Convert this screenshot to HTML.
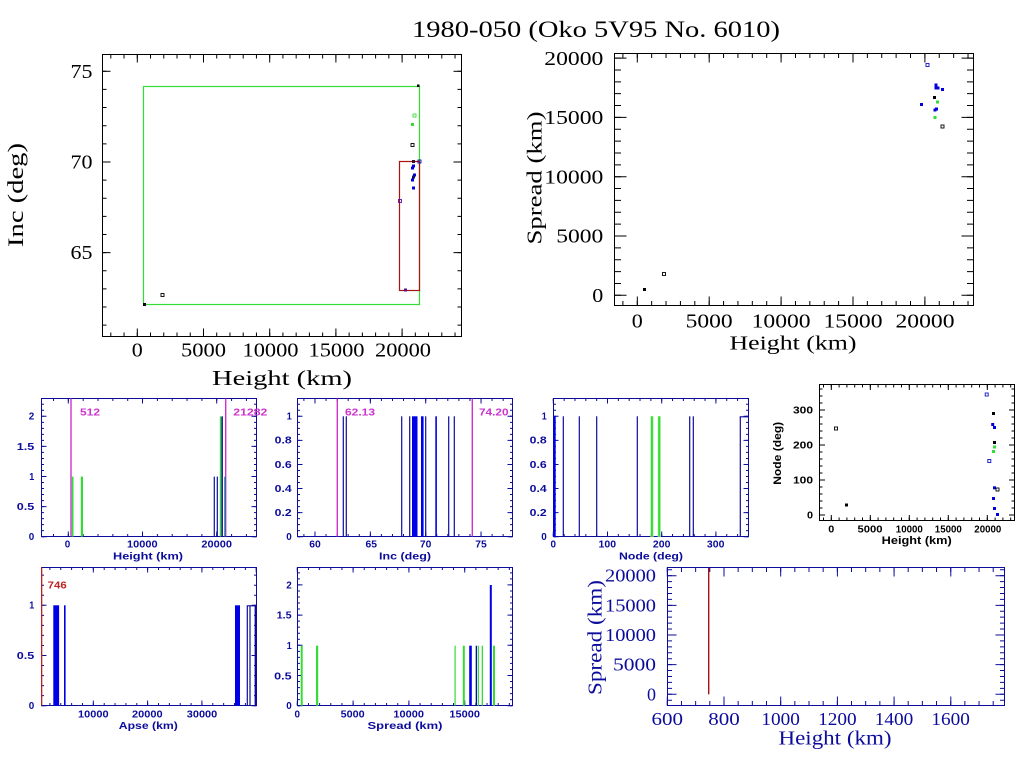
<!DOCTYPE html>
<html><head><meta charset="utf-8"><style>
html,body{margin:0;padding:0;background:#fff;}
svg{display:block;}
.serif{font-family:"Liberation Serif",serif;}
.sm{font-family:"Liberation Sans",sans-serif;font-weight:bold;font-size:10px;}
</style></head><body>
<svg width="1024" height="768" viewBox="0 0 1024 768" xmlns="http://www.w3.org/2000/svg">
<rect width="1024" height="768" fill="#fff"/>

<!-- Title -->
<text class="serif" x="596" y="37" font-size="23" text-anchor="middle" textLength="368" lengthAdjust="spacingAndGlyphs" fill="#000">1980-050 (Oko 5V95 No. 6010)</text>

<!-- ================= TL: Inc vs Height ================= -->
<g stroke="#000" fill="none">
<rect x="102.5" y="54.5" width="359" height="282" stroke-width="1"/>
<line x1="110.3" y1="334.5" x2="462" y2="334.5" stroke-width="4" stroke-dasharray="1 12.24"/>
<line x1="136.8" y1="332.5" x2="462" y2="332.5" stroke-width="8" stroke-dasharray="1 65.2"/>
<line x1="110.3" y1="56.5" x2="462" y2="56.5" stroke-width="4" stroke-dasharray="1 12.24"/>
<line x1="136.8" y1="58.5" x2="462" y2="58.5" stroke-width="8" stroke-dasharray="1 65.2"/>
<line x1="104.5" y1="70.8" x2="104.5" y2="337" stroke-width="4" stroke-dasharray="1 17.13"/>
<line x1="106.5" y1="70.8" x2="106.5" y2="337" stroke-width="8" stroke-dasharray="1 89.65"/>
<line x1="459.5" y1="70.8" x2="459.5" y2="337" stroke-width="4" stroke-dasharray="1 17.13"/>
<line x1="457.5" y1="70.8" x2="457.5" y2="337" stroke-width="8" stroke-dasharray="1 89.65"/>
</g>
<rect x="143.5" y="86.5" width="276" height="218" fill="none" stroke="#33dd33" stroke-width="1.2"/>
<rect x="399.5" y="161.5" width="20" height="129" fill="none" stroke="#aa1111" stroke-width="1.2"/>
<g>
<rect x="143" y="303" width="3" height="3" fill="#000"/>
<rect x="161" y="293.5" width="3" height="3" fill="none" stroke="#000" stroke-width="0.9"/>
<rect x="417" y="84.5" width="2.5" height="2.5" fill="#000"/>
<rect x="413" y="114" width="3" height="3" fill="none" stroke="#33dd33" stroke-width="0.9"/>
<rect x="411" y="123" width="3" height="3" fill="#33dd33"/>
<rect x="411" y="143.5" width="3" height="3" fill="none" stroke="#000" stroke-width="0.9"/>
<rect x="412" y="160" width="3" height="3" fill="#331133"/>
<rect x="418" y="160" width="3" height="3" fill="none" stroke="#1111aa" stroke-width="0.9"/>
<rect x="412" y="164.5" width="3" height="3" fill="#0000dd"/>
<rect x="411" y="166.5" width="3" height="3" fill="#0000dd"/>
<rect x="413" y="173.5" width="3" height="3" fill="#0000dd"/>
<rect x="412" y="175.5" width="3" height="3" fill="#111166"/>
<rect x="411" y="178.5" width="3" height="3" fill="#0000dd"/>
<rect x="412" y="186.5" width="3" height="3" fill="#0000dd"/>
<rect x="398.5" y="199.5" width="3" height="3" fill="none" stroke="#5511aa" stroke-width="0.9"/>
<rect x="404" y="288.5" width="3" height="3" fill="#551188"/>
</g>
<g class="serif" font-size="20" fill="#000">
<text x="92.5" y="77.8" text-anchor="end" textLength="22" lengthAdjust="spacingAndGlyphs">75</text>
<text x="92.5" y="168.5" text-anchor="end" textLength="22" lengthAdjust="spacingAndGlyphs">70</text>
<text x="92.5" y="259" text-anchor="end" textLength="22" lengthAdjust="spacingAndGlyphs">65</text>
<text x="137.3" y="356.5" text-anchor="middle" textLength="11" lengthAdjust="spacingAndGlyphs">0</text>
<text x="203.5" y="356.5" text-anchor="middle" textLength="45" lengthAdjust="spacingAndGlyphs">5000</text>
<text x="270.5" y="356.5" text-anchor="middle" textLength="56" lengthAdjust="spacingAndGlyphs">10000</text>
<text x="336.5" y="356.5" text-anchor="middle" textLength="56" lengthAdjust="spacingAndGlyphs">15000</text>
<text x="403" y="356.5" text-anchor="middle" textLength="56" lengthAdjust="spacingAndGlyphs">20000</text>
<text x="282" y="385" font-size="21" text-anchor="middle" textLength="140" lengthAdjust="spacingAndGlyphs">Height (km)</text>
<text transform="translate(23,195) rotate(-90)" x="0" y="0" font-size="22" text-anchor="middle" textLength="104" lengthAdjust="spacingAndGlyphs">Inc (deg)</text>
</g>

<!-- ================= TR: Spread vs Height ================= -->
<g stroke="#000" fill="none">
<rect x="614.5" y="53.5" width="359" height="252" stroke-width="1"/>
<line x1="622.4" y1="303.25" x2="973" y2="303.25" stroke-width="4.5" stroke-dasharray="1 13.38"/>
<line x1="636.8" y1="301" x2="973" y2="301" stroke-width="9" stroke-dasharray="1 70.9"/>
<line x1="622.4" y1="55.75" x2="973" y2="55.75" stroke-width="4.5" stroke-dasharray="1 13.38"/>
<line x1="636.8" y1="58" x2="973" y2="58" stroke-width="9" stroke-dasharray="1 70.9"/>
<line x1="617.75" y1="295.8" x2="617.75" y2="54" stroke-width="6.5" stroke-dasharray="1 10.86"/>
<line x1="620.5" y1="295.8" x2="620.5" y2="54" stroke-width="12" stroke-dasharray="1 58.3"/>
<line x1="970.25" y1="295.8" x2="970.25" y2="54" stroke-width="6.5" stroke-dasharray="1 10.86"/>
<line x1="967.5" y1="295.8" x2="967.5" y2="54" stroke-width="12" stroke-dasharray="1 58.3"/>
</g>
<g>
<rect x="643" y="288" width="3" height="3" fill="#000"/>
<rect x="662.5" y="272.5" width="3" height="3" fill="none" stroke="#000" stroke-width="0.9"/>
<rect x="926" y="63.5" width="3" height="3" fill="none" stroke="#1111cc" stroke-width="0.9"/>
<rect x="934.5" y="83.5" width="3" height="3" fill="#0000dd"/>
<rect x="934.5" y="86.5" width="3" height="3" fill="#0000dd"/>
<rect x="936.5" y="86.5" width="3" height="3" fill="#0000dd"/>
<rect x="941" y="88" width="3" height="3" fill="#0000dd"/>
<rect x="933" y="96" width="3" height="3" fill="#000"/>
<rect x="936" y="100.5" width="3" height="3" fill="#33dd33"/>
<rect x="920" y="103" width="3" height="3" fill="#0000dd"/>
<rect x="933.5" y="108.5" width="3" height="3" fill="#0000dd"/>
<rect x="935" y="107.5" width="3" height="3" fill="#0000dd"/>
<rect x="933.5" y="116" width="3" height="3" fill="#33dd33"/>
<rect x="941" y="125" width="3" height="3" fill="none" stroke="#000" stroke-width="0.9"/>
</g>
<g class="serif" font-size="20" fill="#000">
<text x="603.3" y="302" text-anchor="end" textLength="11" lengthAdjust="spacingAndGlyphs">0</text>
<text x="603.3" y="242.7" text-anchor="end" textLength="47" lengthAdjust="spacingAndGlyphs">5000</text>
<text x="603.3" y="183.3" text-anchor="end" textLength="59" lengthAdjust="spacingAndGlyphs">10000</text>
<text x="603.3" y="124" text-anchor="end" textLength="59" lengthAdjust="spacingAndGlyphs">15000</text>
<text x="603.3" y="64.8" text-anchor="end" textLength="59" lengthAdjust="spacingAndGlyphs">20000</text>
<text x="637.3" y="327.3" text-anchor="middle" textLength="11" lengthAdjust="spacingAndGlyphs">0</text>
<text x="709.2" y="327.3" text-anchor="middle" textLength="47" lengthAdjust="spacingAndGlyphs">5000</text>
<text x="781.1" y="327.3" text-anchor="middle" textLength="59" lengthAdjust="spacingAndGlyphs">10000</text>
<text x="853" y="327.3" text-anchor="middle" textLength="59" lengthAdjust="spacingAndGlyphs">15000</text>
<text x="925" y="327.3" text-anchor="middle" textLength="59" lengthAdjust="spacingAndGlyphs">20000</text>
<text x="793" y="349.3" text-anchor="middle" textLength="127" lengthAdjust="spacingAndGlyphs">Height (km)</text>
<text transform="translate(541.7,178) rotate(-90)" x="0" y="0" font-size="21" text-anchor="middle" textLength="133" lengthAdjust="spacingAndGlyphs">Spread (km)</text>
</g>

<!-- ================= H1: Height histogram ================= -->
<g stroke="#0c0c9c" fill="none">
<rect x="41.5" y="398.5" width="215" height="138" stroke-width="1"/>
<line x1="53" y1="535.25" x2="256" y2="535.25" stroke-width="2.5" stroke-dasharray="1 13.84"/>
<line x1="67.8" y1="534" x2="256" y2="534" stroke-width="5" stroke-dasharray="1 73.2"/>
<line x1="53" y1="399.75" x2="256" y2="399.75" stroke-width="2.5" stroke-dasharray="1 13.84"/>
<line x1="67.8" y1="401" x2="256" y2="401" stroke-width="5" stroke-dasharray="1 73.2"/>
<line x1="42.75" y1="537.2" x2="42.75" y2="398" stroke-width="2.5" stroke-dasharray="1 5.02"/>
<line x1="44" y1="537.2" x2="44" y2="398" stroke-width="5" stroke-dasharray="1 29.1"/>
<line x1="255.25" y1="537.2" x2="255.25" y2="398" stroke-width="2.5" stroke-dasharray="1 5.02"/>
<line x1="254" y1="537.2" x2="254" y2="398" stroke-width="5" stroke-dasharray="1 29.1"/>
</g>
<g>
<rect x="70.3" y="398.5" width="1.4" height="138" fill="#cc33cc"/>
<rect x="225" y="398.5" width="1.4" height="138" fill="#cc33cc"/>
<rect x="71.8" y="476.6" width="1.7" height="60" fill="#33dd33"/>
<rect x="80.8" y="476.6" width="2.2" height="60" fill="#33dd33"/>
<rect x="213.7" y="476.6" width="1.2" height="60" fill="#0c0c9c"/>
<rect x="216.7" y="476.6" width="1.2" height="60" fill="#0c0c9c"/>
<rect x="219.8" y="416.4" width="1.5" height="120" fill="#33dd33"/>
<rect x="221.4" y="416.4" width="1.5" height="120" fill="#0c0c9c"/>
<rect x="224.3" y="476.6" width="1.3" height="60" fill="#107090"/>
</g>
<g class="sm" fill="#0c0c9c">
<text x="34.3" y="419.6" text-anchor="end" textLength="5.5" lengthAdjust="spacingAndGlyphs">2</text>
<text x="34.3" y="449.8" text-anchor="end" textLength="17.5" lengthAdjust="spacingAndGlyphs">1.5</text>
<text x="34.3" y="479.9" text-anchor="end" textLength="5" lengthAdjust="spacingAndGlyphs">1</text>
<text x="34.3" y="510" text-anchor="end" textLength="17.5" lengthAdjust="spacingAndGlyphs">0.5</text>
<text x="34.3" y="540" text-anchor="end" textLength="5.5" lengthAdjust="spacingAndGlyphs">0</text>
<text x="67.5" y="547.7" text-anchor="middle" textLength="5.5" lengthAdjust="spacingAndGlyphs">0</text>
<text x="142.3" y="547.7" text-anchor="middle" textLength="30.5" lengthAdjust="spacingAndGlyphs">10000</text>
<text x="216.7" y="547.7" text-anchor="middle" textLength="30.5" lengthAdjust="spacingAndGlyphs">20000</text>
<text x="148" y="559.5" text-anchor="middle" textLength="70" lengthAdjust="spacingAndGlyphs">Height (km)</text>
</g>
<g class="sm" fill="#cc33cc">
<text x="80" y="415.7" textLength="20" lengthAdjust="spacingAndGlyphs">512</text>
<text x="233.3" y="415.7" textLength="34" lengthAdjust="spacingAndGlyphs">21282</text>
</g>

<!-- ================= H2: Inc histogram ================= -->
<g stroke="#0c0c9c" fill="none">
<rect x="297.5" y="398.5" width="215" height="138" stroke-width="1"/>
<line x1="303.4" y1="535.25" x2="512" y2="535.25" stroke-width="2.5" stroke-dasharray="1 10.07"/>
<line x1="314.5" y1="534" x2="512" y2="534" stroke-width="5" stroke-dasharray="1 54.35"/>
<line x1="303.4" y1="399.75" x2="512" y2="399.75" stroke-width="2.5" stroke-dasharray="1 10.07"/>
<line x1="314.5" y1="401" x2="512" y2="401" stroke-width="5" stroke-dasharray="1 54.35"/>
<line x1="298.75" y1="537.2" x2="298.75" y2="398" stroke-width="2.5" stroke-dasharray="1 5.02"/>
<line x1="300" y1="537.2" x2="300" y2="398" stroke-width="5" stroke-dasharray="1 23.08"/>
<line x1="511.25" y1="537.2" x2="511.25" y2="398" stroke-width="2.5" stroke-dasharray="1 5.02"/>
<line x1="510" y1="537.2" x2="510" y2="398" stroke-width="5" stroke-dasharray="1 23.08"/>
</g>
<g>
<rect x="336.6" y="398.5" width="1.4" height="138" fill="#cc33cc"/>
<rect x="471.6" y="398.5" width="1.4" height="138" fill="#cc33cc"/>
<g fill="#0c0c9c">
<rect x="342.7" y="416.3" width="1.2" height="120.5"/>
<rect x="345.7" y="416.3" width="1.2" height="120.5"/>
<rect x="401.1" y="416.3" width="1.2" height="120.5"/>
<rect x="409.1" y="416.3" width="1.2" height="120.5"/>
<rect x="425.1" y="416.3" width="1.2" height="120.5"/>
<rect x="448.1" y="416.3" width="1.2" height="120.5"/>
<rect x="453.7" y="416.3" width="1.2" height="120.5"/>
</g>
<g fill="#0000e6">
<rect x="412" y="416.3" width="5.5" height="120.5"/>
<rect x="421" y="416.3" width="2.6" height="120.5"/>
<rect x="435.3" y="416.3" width="1.6" height="120.5"/>
</g>
</g>
<g class="sm" fill="#0c0c9c">
<text x="291.7" y="419.6" text-anchor="end" textLength="5" lengthAdjust="spacingAndGlyphs">1</text>
<text x="291.7" y="443.7" text-anchor="end" textLength="17" lengthAdjust="spacingAndGlyphs">0.8</text>
<text x="291.7" y="467.8" text-anchor="end" textLength="17" lengthAdjust="spacingAndGlyphs">0.6</text>
<text x="291.7" y="491.9" text-anchor="end" textLength="17" lengthAdjust="spacingAndGlyphs">0.4</text>
<text x="291.7" y="515.9" text-anchor="end" textLength="17" lengthAdjust="spacingAndGlyphs">0.2</text>
<text x="291.7" y="540" text-anchor="end" textLength="5.5" lengthAdjust="spacingAndGlyphs">0</text>
<text x="315" y="547.7" text-anchor="middle" textLength="11.5" lengthAdjust="spacingAndGlyphs">60</text>
<text x="371.3" y="547.7" text-anchor="middle" textLength="11.5" lengthAdjust="spacingAndGlyphs">65</text>
<text x="425.7" y="547.7" text-anchor="middle" textLength="11.5" lengthAdjust="spacingAndGlyphs">70</text>
<text x="481" y="547.7" text-anchor="middle" textLength="11.5" lengthAdjust="spacingAndGlyphs">75</text>
<text x="405" y="559.5" text-anchor="middle" textLength="52" lengthAdjust="spacingAndGlyphs">Inc (deg)</text>
</g>
<g class="sm" fill="#cc33cc">
<text x="345" y="415.7" textLength="30" lengthAdjust="spacingAndGlyphs">62.13</text>
<text x="479" y="415.7" textLength="29.5" lengthAdjust="spacingAndGlyphs">74.20</text>
</g>

<!-- ================= H3: Node histogram ================= -->
<g stroke="#0c0c9c" fill="none">
<rect x="553.5" y="398.5" width="195" height="138" stroke-width="1"/>
<line x1="552.8" y1="535.25" x2="748" y2="535.25" stroke-width="2.5" stroke-dasharray="1 9.84"/>
<line x1="552.8" y1="534" x2="748" y2="534" stroke-width="5" stroke-dasharray="1 53.2"/>
<line x1="552.8" y1="399.75" x2="748" y2="399.75" stroke-width="2.5" stroke-dasharray="1 9.84"/>
<line x1="552.8" y1="401" x2="748" y2="401" stroke-width="5" stroke-dasharray="1 53.2"/>
<line x1="554.75" y1="537.2" x2="554.75" y2="398" stroke-width="2.5" stroke-dasharray="1 5.02"/>
<line x1="556" y1="537.2" x2="556" y2="398" stroke-width="5" stroke-dasharray="1 23.08"/>
<line x1="747.25" y1="537.2" x2="747.25" y2="398" stroke-width="2.5" stroke-dasharray="1 5.02"/>
<line x1="746" y1="537.2" x2="746" y2="398" stroke-width="5" stroke-dasharray="1 23.08"/>
<path d="M740.3 536.5 V416.8 H748.5" stroke-width="1.2"/>
</g>
<g>
<rect x="553.3" y="416.3" width="2.4" height="120.5" fill="#0000e6"/>
<g fill="#0c0c9c">
<rect x="562.7" y="416.3" width="1.2" height="120.5"/>
<rect x="578.7" y="416.3" width="1.2" height="120.5"/>
<rect x="596.1" y="416.3" width="1.2" height="120.5"/>
<rect x="636.7" y="416.3" width="1.2" height="120.5"/>
<rect x="689.1" y="416.3" width="1.2" height="120.5"/>
<rect x="692.7" y="416.3" width="1.2" height="120.5"/>
</g>
<rect x="650.3" y="416.3" width="3.4" height="120.5" fill="#bff0bf"/>
<rect x="657.6" y="416.3" width="3.4" height="120.5" fill="#bff0bf"/>
<rect x="650.9" y="416.3" width="2" height="120.5" fill="#33dd33"/>
<rect x="658.2" y="416.3" width="2" height="120.5" fill="#33dd33"/>
</g>
<g class="sm" fill="#0c0c9c">
<text x="546.7" y="419.6" text-anchor="end" textLength="5" lengthAdjust="spacingAndGlyphs">1</text>
<text x="546.7" y="443.7" text-anchor="end" textLength="17" lengthAdjust="spacingAndGlyphs">0.8</text>
<text x="546.7" y="467.8" text-anchor="end" textLength="17" lengthAdjust="spacingAndGlyphs">0.6</text>
<text x="546.7" y="491.9" text-anchor="end" textLength="17" lengthAdjust="spacingAndGlyphs">0.4</text>
<text x="546.7" y="515.9" text-anchor="end" textLength="17" lengthAdjust="spacingAndGlyphs">0.2</text>
<text x="546.7" y="540" text-anchor="end" textLength="5.5" lengthAdjust="spacingAndGlyphs">0</text>
<text x="553.3" y="547.7" text-anchor="middle" textLength="5.5" lengthAdjust="spacingAndGlyphs">0</text>
<text x="607.3" y="547.7" text-anchor="middle" textLength="17.5" lengthAdjust="spacingAndGlyphs">100</text>
<text x="661.7" y="547.7" text-anchor="middle" textLength="17.5" lengthAdjust="spacingAndGlyphs">200</text>
<text x="715.7" y="547.7" text-anchor="middle" textLength="17.5" lengthAdjust="spacingAndGlyphs">300</text>
<text x="651" y="559.5" text-anchor="middle" textLength="64" lengthAdjust="spacingAndGlyphs">Node (deg)</text>
</g>

<!-- ================= SN: Node vs Height ================= -->
<g stroke="#000" fill="none">
<rect x="819.5" y="384.5" width="195" height="136" stroke-width="1"/>
<line x1="823" y1="519" x2="1014" y2="519" stroke-width="3" stroke-dasharray="1 6.8"/>
<line x1="830.8" y1="517.75" x2="1014" y2="517.75" stroke-width="5.5" stroke-dasharray="1 38"/>
<line x1="823" y1="386" x2="1014" y2="386" stroke-width="3" stroke-dasharray="1 6.8"/>
<line x1="830.8" y1="387.25" x2="1014" y2="387.25" stroke-width="5.5" stroke-dasharray="1 38"/>
<line x1="821" y1="515.5" x2="821" y2="385" stroke-width="3" stroke-dasharray="1 6"/>
<line x1="822.25" y1="515.5" x2="822.25" y2="385" stroke-width="5.5" stroke-dasharray="1 34"/>
<line x1="1013" y1="515.5" x2="1013" y2="385" stroke-width="3" stroke-dasharray="1 6"/>
<line x1="1011.75" y1="515.5" x2="1011.75" y2="385" stroke-width="5.5" stroke-dasharray="1 34"/>
</g>
<g>
<rect x="834.5" y="427" width="3" height="3" fill="none" stroke="#000" stroke-width="0.9"/>
<rect x="845" y="503.5" width="3" height="3" fill="#000"/>
<rect x="985.2" y="393" width="3" height="3" fill="none" stroke="#1111cc" stroke-width="0.9"/>
<rect x="992" y="412" width="3" height="3" fill="#000"/>
<rect x="991.2" y="423" width="3" height="3" fill="#0000dd"/>
<rect x="993" y="426" width="3" height="3" fill="#0000dd"/>
<rect x="993" y="441" width="3" height="3" fill="#000"/>
<rect x="993" y="445.5" width="3" height="3" fill="#33dd33"/>
<rect x="992" y="450" width="3" height="3" fill="#33dd33"/>
<rect x="987.8" y="459.5" width="3" height="3" fill="none" stroke="#1111cc" stroke-width="0.9"/>
<rect x="993" y="486.3" width="3" height="3" fill="#0000dd"/>
<rect x="996" y="488" width="3" height="3" fill="none" stroke="#000" stroke-width="0.9"/>
<rect x="992" y="497" width="3" height="3" fill="#0000dd"/>
<rect x="993" y="507" width="3" height="3" fill="#0000dd"/>
<rect x="996" y="513" width="3" height="3" fill="#0000dd"/>
</g>
<g class="sm" fill="#000">
<text x="813" y="518.3" text-anchor="end" textLength="6" lengthAdjust="spacingAndGlyphs">0</text>
<text x="813" y="483.6" text-anchor="end" textLength="20" lengthAdjust="spacingAndGlyphs">100</text>
<text x="813" y="448.3" text-anchor="end" textLength="20" lengthAdjust="spacingAndGlyphs">200</text>
<text x="813" y="413.3" text-anchor="end" textLength="20" lengthAdjust="spacingAndGlyphs">300</text>
<text x="831.3" y="532.3" text-anchor="middle" textLength="6" lengthAdjust="spacingAndGlyphs">0</text>
<text x="870" y="532.3" text-anchor="middle" textLength="25" lengthAdjust="spacingAndGlyphs">5000</text>
<text x="909.3" y="532.3" text-anchor="middle" textLength="27" lengthAdjust="spacingAndGlyphs">10000</text>
<text x="948.3" y="532.3" text-anchor="middle" textLength="27" lengthAdjust="spacingAndGlyphs">15000</text>
<text x="987.8" y="532.3" text-anchor="middle" textLength="27" lengthAdjust="spacingAndGlyphs">20000</text>
<text x="916.7" y="544" font-size="11" text-anchor="middle" textLength="70" lengthAdjust="spacingAndGlyphs">Height (km)</text>
<text transform="translate(781,453.3) rotate(-90)" x="0" y="0" font-size="11" text-anchor="middle" textLength="63" lengthAdjust="spacingAndGlyphs">Node (deg)</text>
</g>

<!-- ================= BA: Apse histogram ================= -->
<g stroke="#0c0c9c" fill="none">
<rect x="41.5" y="567.5" width="215" height="138" stroke-width="1"/>
<line x1="49.4" y1="704.25" x2="256" y2="704.25" stroke-width="2.5" stroke-dasharray="1 9.86"/>
<line x1="92.8" y1="703" x2="256" y2="703" stroke-width="5" stroke-dasharray="1 53.3"/>
<line x1="49.4" y1="568.75" x2="256" y2="568.75" stroke-width="2.5" stroke-dasharray="1 9.86"/>
<line x1="92.8" y1="570" x2="256" y2="570" stroke-width="5" stroke-dasharray="1 53.3"/>
<line x1="42.75" y1="706.2" x2="42.75" y2="567" stroke-width="2.5" stroke-dasharray="1 9.04"/>
<line x1="44" y1="706.2" x2="44" y2="567" stroke-width="5" stroke-dasharray="1 49.2"/>
<line x1="255.25" y1="706.2" x2="255.25" y2="567" stroke-width="2.5" stroke-dasharray="1 9.04"/>
<line x1="254" y1="706.2" x2="254" y2="567" stroke-width="5" stroke-dasharray="1 49.2"/>
<path d="M247.3 705.5 V605.8 H256" stroke-width="1.2"/>
<line x1="250" y1="605.5" x2="250" y2="705.5" stroke-width="1.2"/>
<line x1="255.3" y1="605.5" x2="255.3" y2="705.5" stroke-width="1.4"/>
</g>
<rect x="41" y="567.5" width="1.3" height="138" fill="#bb2222"/>
<g fill="#0000e6">
<rect x="53.3" y="605.3" width="5.8" height="100.4"/>
<rect x="64" y="605.3" width="1.6" height="100.4"/>
<rect x="235" y="605.3" width="5" height="100.4"/>
</g>
<g class="sm" fill="#0c0c9c">
<text x="34.3" y="608.6" text-anchor="end" textLength="5" lengthAdjust="spacingAndGlyphs">1</text>
<text x="34.3" y="659" text-anchor="end" textLength="17.5" lengthAdjust="spacingAndGlyphs">0.5</text>
<text x="34.3" y="709" text-anchor="end" textLength="5.5" lengthAdjust="spacingAndGlyphs">0</text>
<text x="93.3" y="717.3" text-anchor="middle" textLength="30.5" lengthAdjust="spacingAndGlyphs">10000</text>
<text x="147.3" y="717.3" text-anchor="middle" textLength="30.5" lengthAdjust="spacingAndGlyphs">20000</text>
<text x="202" y="717.3" text-anchor="middle" textLength="30.5" lengthAdjust="spacingAndGlyphs">30000</text>
<text x="148.3" y="729" text-anchor="middle" textLength="59" lengthAdjust="spacingAndGlyphs">Apse (km)</text>
</g>
<text class="sm" x="47.7" y="588.3" fill="#bb2222" textLength="19" lengthAdjust="spacingAndGlyphs">746</text>

<!-- ================= BS: Spread histogram ================= -->
<g stroke="#0c0c9c" fill="none">
<rect x="297.5" y="567.5" width="215" height="138" stroke-width="1"/>
<line x1="296.8" y1="704.25" x2="512" y2="704.25" stroke-width="2.5" stroke-dasharray="1 10.16"/>
<line x1="296.8" y1="703" x2="512" y2="703" stroke-width="5" stroke-dasharray="1 54.8"/>
<line x1="296.8" y1="568.75" x2="512" y2="568.75" stroke-width="2.5" stroke-dasharray="1 10.16"/>
<line x1="296.8" y1="570" x2="512" y2="570" stroke-width="5" stroke-dasharray="1 54.8"/>
<line x1="298.75" y1="706.2" x2="298.75" y2="567" stroke-width="2.5" stroke-dasharray="1 5.04"/>
<line x1="300" y1="706.2" x2="300" y2="567" stroke-width="5" stroke-dasharray="1 29.2"/>
<line x1="511.25" y1="706.2" x2="511.25" y2="567" stroke-width="2.5" stroke-dasharray="1 5.04"/>
<line x1="510" y1="706.2" x2="510" y2="567" stroke-width="5" stroke-dasharray="1 29.2"/>
</g>
<g>
<g fill="#33dd33">
<rect x="300.7" y="645.7" width="2" height="60"/>
<rect x="316" y="645.7" width="2.2" height="60"/>
<rect x="454.5" y="645.7" width="1.2" height="60"/>
<rect x="462.8" y="645.7" width="2" height="60"/>
<rect x="477.7" y="645.7" width="1.3" height="60"/>
<rect x="481.7" y="645.7" width="1.3" height="60"/>
<rect x="493" y="645.7" width="2" height="60"/>
</g>
<rect x="469.2" y="645.7" width="2.6" height="60" fill="#0000e6"/>
<rect x="475.7" y="645.7" width="1.3" height="60" fill="#0c0c9c"/>
<rect x="489.8" y="585" width="2" height="120.7" fill="#0000e6"/>
</g>
<g class="sm" fill="#0c0c9c">
<text x="291.7" y="588.3" text-anchor="end" textLength="5.5" lengthAdjust="spacingAndGlyphs">2</text>
<text x="291.7" y="618.6" text-anchor="end" textLength="15" lengthAdjust="spacingAndGlyphs">1.5</text>
<text x="291.7" y="649" text-anchor="end" textLength="5" lengthAdjust="spacingAndGlyphs">1</text>
<text x="291.7" y="679.6" text-anchor="end" textLength="17.5" lengthAdjust="spacingAndGlyphs">0.5</text>
<text x="291.7" y="709" text-anchor="end" textLength="5.5" lengthAdjust="spacingAndGlyphs">0</text>
<text x="297.3" y="717.3" text-anchor="middle" textLength="5.5" lengthAdjust="spacingAndGlyphs">0</text>
<text x="352.7" y="717.3" text-anchor="middle" textLength="24" lengthAdjust="spacingAndGlyphs">5000</text>
<text x="408.7" y="717.3" text-anchor="middle" textLength="30.5" lengthAdjust="spacingAndGlyphs">10000</text>
<text x="464.7" y="717.3" text-anchor="middle" textLength="30.5" lengthAdjust="spacingAndGlyphs">15000</text>
<text x="405" y="729" text-anchor="middle" textLength="75" lengthAdjust="spacingAndGlyphs">Spread (km)</text>
</g>

<!-- ================= BR: Spread vs Height (zoom) ================= -->
<g stroke="#0c0c9c" fill="none">
<rect x="667.5" y="567.5" width="337" height="138" stroke-width="1"/>
<line x1="666.8" y1="703.25" x2="1004" y2="703.25" stroke-width="4.5" stroke-dasharray="1 13.17"/>
<line x1="666.8" y1="701" x2="1004" y2="701" stroke-width="9" stroke-dasharray="1 55.7"/>
<line x1="666.8" y1="569.75" x2="1004" y2="569.75" stroke-width="4.5" stroke-dasharray="1 13.17"/>
<line x1="666.8" y1="572" x2="1004" y2="572" stroke-width="9" stroke-dasharray="1 55.7"/>
<line x1="669.75" y1="700.7" x2="669.75" y2="568" stroke-width="4.5" stroke-dasharray="1 4.93"/>
<line x1="672" y1="694.8" x2="672" y2="568" stroke-width="9" stroke-dasharray="1 28.65"/>
<line x1="1002.25" y1="700.7" x2="1002.25" y2="568" stroke-width="4.5" stroke-dasharray="1 4.93"/>
<line x1="1000" y1="694.8" x2="1000" y2="568" stroke-width="9" stroke-dasharray="1 28.65"/>
</g>
<rect x="708" y="567.7" width="1.4" height="126.6" fill="#aa1111"/>
<g class="serif" font-size="18" fill="#0c0c9c">
<text x="656" y="700.3" text-anchor="end" textLength="9" lengthAdjust="spacingAndGlyphs">0</text>
<text x="656" y="670.6" text-anchor="end" textLength="43" lengthAdjust="spacingAndGlyphs">5000</text>
<text x="656" y="641" text-anchor="end" textLength="51" lengthAdjust="spacingAndGlyphs">10000</text>
<text x="656" y="611.3" text-anchor="end" textLength="51" lengthAdjust="spacingAndGlyphs">15000</text>
<text x="656" y="581.7" text-anchor="end" textLength="51" lengthAdjust="spacingAndGlyphs">20000</text>
<text x="667.3" y="725" text-anchor="middle" textLength="31.5" lengthAdjust="spacingAndGlyphs">600</text>
<text x="724" y="725" text-anchor="middle" textLength="31.5" lengthAdjust="spacingAndGlyphs">800</text>
<text x="780.7" y="725" text-anchor="middle" textLength="38.5" lengthAdjust="spacingAndGlyphs">1000</text>
<text x="837.4" y="725" text-anchor="middle" textLength="38.5" lengthAdjust="spacingAndGlyphs">1200</text>
<text x="894" y="725" text-anchor="middle" textLength="38.5" lengthAdjust="spacingAndGlyphs">1400</text>
<text x="950.7" y="725" text-anchor="middle" textLength="38.5" lengthAdjust="spacingAndGlyphs">1600</text>
<text x="835" y="744.3" font-size="20" text-anchor="middle" textLength="113" lengthAdjust="spacingAndGlyphs">Height (km)</text>
<text transform="translate(601.7,637.5) rotate(-90)" x="0" y="0" font-size="20" text-anchor="middle" textLength="115" lengthAdjust="spacingAndGlyphs">Spread (km)</text>
</g>
</svg>
</body></html>
